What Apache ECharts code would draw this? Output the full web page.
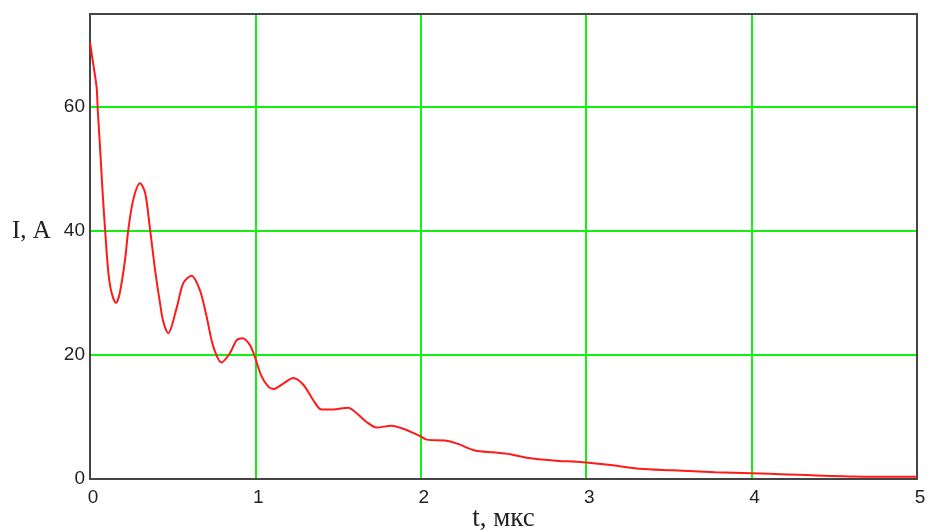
<!DOCTYPE html>
<html>
<head>
<meta charset="utf-8">
<script src="https://cdn.jsdelivr.net/npm/echarts@6/dist/echarts.min.js"></script>
<style>
html, body { margin: 0; padding: 0; background: #fff; }
#chart { width: 927px; height: 530px; }
</style>
</head>
<body>
<div id="chart"></div>
<script>
// время, мкс
var tValues = [0, 0.014, 0.04, 0.046, 0.06, 0.075, 0.091, 0.111, 0.131, 0.157, 0.18, 0.212, 0.232, 0.262, 0.302,
	0.333, 0.363, 0.393, 0.423, 0.443, 0.473, 0.524, 0.564, 0.614, 0.665, 0.705, 0.745, 0.796, 0.846, 0.887, 0.923,
	0.967, 0.994, 1.038, 1.078, 1.108, 1.169, 1.229, 1.29, 1.35, 1.40, 1.47, 1.561, 1.612, 1.672, 1.733, 1.823,
	1.894, 1.997, 2.036, 2.146, 2.22, 2.328, 2.44, 2.54, 2.65, 2.80, 2.98, 3.16, 3.32, 3.52, 3.78, 4.11, 4.61, 5.0];
// ток, А
var iValues = [70.5, 67.9, 63.2, 60, 53.8, 46.8, 40.3, 33.3, 30, 28.4, 30, 35.4, 40.3, 45.1, 47.7,
	46.2, 40.3, 33.8, 28.4, 25.4, 23.5, 27.6, 31.6, 32.8, 30.4, 26.2, 21.4, 18.8, 20.3, 22.4, 22.7,
	21.6, 19.9, 16.5, 14.9, 14.5, 15.4, 16.3, 15.2, 12.7, 11.2, 11.2, 11.5, 10.6, 9.2, 8.3, 8.6,
	8.1, 6.9, 6.35, 6.2, 5.7, 4.6, 4.3, 4.0, 3.4, 3.0, 2.7, 2.2, 1.65, 1.4, 1.1, 0.84, 0.4, 0.35];

var xTicks = [0, 1, 2, 3, 4, 5];
var yTicks = [0, 20, 40, 60];

var data = [];
for (var k = 0; k < tValues.length; k++) {
	data.push([tValues[k], iValues[k]]);
}

var frame = { show : true, onZero : false, lineStyle : { color : '#444', width : 2 } };
var gridLine = { show : true, lineStyle : { color : '#12f012', width : 2 } };
var labelFont = {
	fontFamily : 'Liberation Sans',
	fontSize : 19,
	color : '#222'
};

var chart = echarts.init(document.getElementById('chart'));
chart.setOption({
	animation : false,
	grid : {
		left : 90,
		right : 10,
		top : 14,
		bottom : 51,
		outerBoundsMode : 'none',
		containLabel : false
	},
	graphic : [ {
		type : 'text',
		left : 12,
		top : 219,
		style : {
			text : 'I, A',
			font : '25px "Liberation Serif"',
			fill : '#222'
		}
	} ],
	xAxis : [ {
		type : 'value',
		min : xTicks[0],
		max : xTicks[xTicks.length - 1],
		interval : 1,
		name : 't, мкс',
		nameLocation : 'middle',
		nameGap : 26,
		nameMoveOverlap : false,
		nameTextStyle : {
			fontFamily : 'Liberation Serif',
			fontSize : 27,
			color : '#222'
		},
		axisLine : frame,
		axisTick : { show : false },
		axisLabel : Object.assign({ margin : 9, padding : [0, 0, 0, 6] }, labelFont),
		splitLine : gridLine
	}, {
		// верхняя рамка
		type : 'value',
		position : 'top',
		z : 4,
		min : xTicks[0],
		max : xTicks[xTicks.length - 1],
		axisLine : frame,
		axisTick : { show : false },
		axisLabel : { show : false },
		splitLine : { show : false }
	} ],
	yAxis : [ {
		type : 'value',
		min : yTicks[0],
		max : 75,
		interval : 20,
		axisLine : frame,
		axisTick : { show : false },
		axisLabel : Object.assign({ showMaxLabel : false, margin : 5 }, labelFont),
		splitLine : gridLine
	}, {
		// правая рамка
		type : 'value',
		position : 'right',
		z : 4,
		min : yTicks[0],
		max : 75,
		axisLine : frame,
		axisTick : { show : false },
		axisLabel : { show : false },
		splitLine : { show : false }
	} ],
	series : [ {
		type : 'line',
		data : data,
		smooth : 0.3,
		showSymbol : false,
		z : 5,
		lineStyle : { color : '#ff1a1a', width : 2 }
	} ]
});
</script>
</body>
</html>
